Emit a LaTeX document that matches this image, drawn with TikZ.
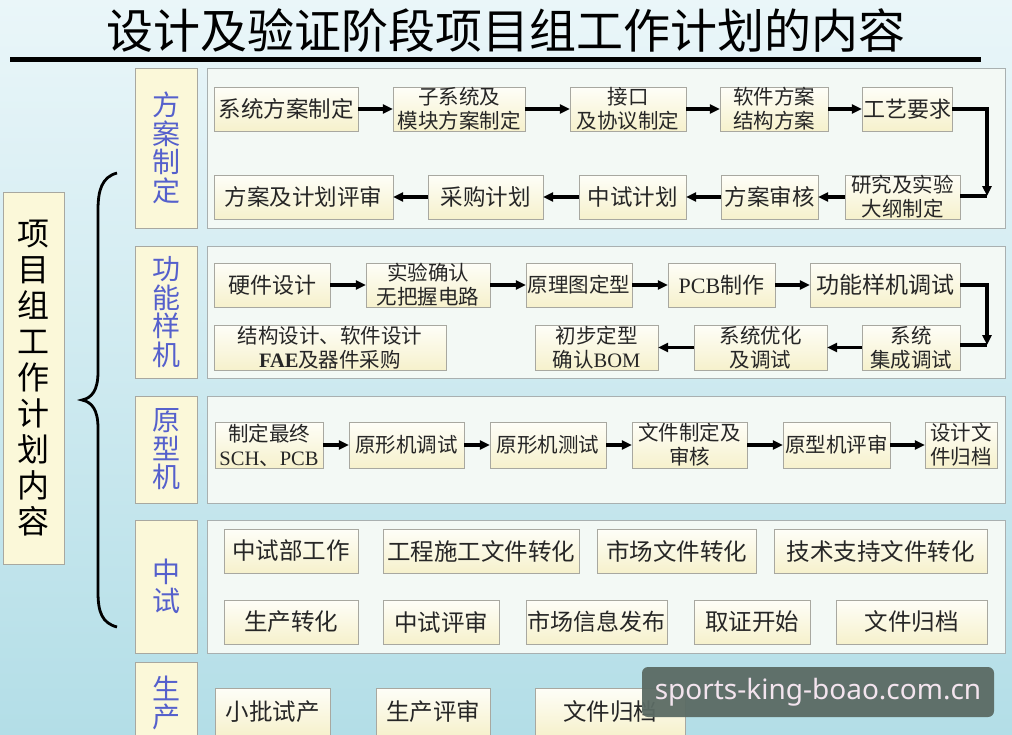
\documentclass[tikz,border=0pt]{standalone}
\usepackage{fontspec}
\newfontfamily\cjk{Noto Sans CJK SC}
\newfontfamily\lat{Liberation Serif}
\newfontfamily\wmfont{Noto Sans}
\usetikzlibrary{arrows.meta}
\definecolor{bgtop}{HTML}{EAF6F9}
\definecolor{bgmid}{HTML}{DCF0F4}
\definecolor{bgbot}{HTML}{B3DEE7}
\definecolor{panelfill}{HTML}{F3F9F5}
\definecolor{panelline}{HTML}{A9B0B0}
\definecolor{phasefill}{HTML}{FBF8D9}
\definecolor{boxline}{HTML}{A8A8A0}
\definecolor{boxtop}{HTML}{FEFEF8}
\definecolor{boxbot}{HTML}{F6F1CC}
\definecolor{phaseblue}{HTML}{5560CC}
\definecolor{wmfill}{HTML}{5B6B64}
\definecolor{wmtext}{HTML}{F3E4EE}
\tikzset{
  >={Triangle[length=10pt,width=9pt]},
  stepbox/.style={draw=boxline, top color=boxtop, bottom color=boxbot, inner sep=0pt,
    minimum height=44pt, align=center, text=black!85,
    font=\cjk\fontsize{#1}{#1}\selectfont},
  stepbox/.default=22,
  twoline/.style={stepbox, font=\cjk\fontsize{20.5}{24}\selectfont},
  phase/.style={draw=boxline, fill=phasefill, minimum width=62pt, inner sep=0pt,
    align=center, text=phaseblue, font=\cjk\fontsize{28}{28.5}\selectfont},
  panel/.style={draw=panelline, fill=panelfill, minimum width=798pt, inner sep=0pt},
  flow/.style={->, line width=3.3pt},
  turnline/.style={line width=3.3pt}
}

\begin{document}
\begin{tikzpicture}[x=1pt,y=-1pt]

\clip (0,0) rectangle (1012,734);
\shade[top color=bgtop, middle color=bgmid, bottom color=bgbot] (0,0) rectangle (1012,734);

% Title
\node[font=\cjk\fontsize{47}{47}\selectfont] (title) at (506,31) {设计及验证阶段项目组工作计划的内容};
\draw[line width=5pt] (10,59.5) -- (981,59.5);

% Left label and brace
\node[draw=boxline, fill=phasefill, minimum width=61pt, minimum height=372pt, align=center,
  font=\cjk\fontsize{32}{36}\selectfont] (plan) at (33.5,378) {项\\目\\组\\工\\作\\计\\划\\内\\容};
\draw[line width=2.8pt] (117,173) .. controls (102,177) and (98,190) .. (98,210) -- (98,372)
  .. controls (98,390) and (92,398) .. (82,400) .. controls (92,402) and (98,410) .. (98,428)
  -- (98,592) .. controls (98,612) and (102,623) .. (117,627);

% -------- 方案制定 --------
\node[panel, minimum height=160pt] (p1) at (606,148) {};
\node[phase, minimum height=160pt] (ph1) at (166,148) {方\\案\\制\\定};
\node[stepbox=22.5, minimum width=144pt] (fa1) at (286,109) {系统方案制定};
\node[twoline, minimum width=132pt] (fa2) at (459,109) {子系统及\\模块方案制定};
\node[twoline, minimum width=116pt] (fa3) at (628,109) {接口\\及协议制定};
\node[twoline, minimum width=108pt] (fa4) at (774,109) {软件方案\\结构方案};
\node[stepbox, minimum width=90pt] (fa5) at (907,109) {工艺要求};
\node[twoline, minimum width=115pt] (fa6) at (902.5,197) {研究及实验\\大纲制定};
\node[stepbox=22.5, minimum width=97pt] (fa7) at (769.5,197) {方案审核};
\node[stepbox=22.5, minimum width=107pt] (fa8) at (632.5,197) {中试计划};
\node[stepbox=22.5, minimum width=115pt] (fa9) at (485.5,197) {采购计划};
\node[stepbox=22.5, minimum width=179pt] (fa10) at (303.5,197) {方案及计划评审};
\coordinate (turn1) at (987,196);

\draw[flow] (fa1) -- (fa2);
\draw[flow] (fa2) -- (fa3);
\draw[flow] (fa3) -- (fa4);
\draw[flow] (fa4) -- (fa5);
\draw[flow] (fa5.east) -| (turn1);
\draw[turnline] (fa6.east |- turn1) -- (turn1);
\draw[flow] (fa6) -- (fa7);
\draw[flow] (fa7) -- (fa8);
\draw[flow] (fa8) -- (fa9);
\draw[flow] (fa9) -- (fa10);

% -------- 功能样机 --------
\node[panel, minimum height=132pt] (p2) at (606,312) {};
\node[phase, minimum height=132pt] (ph2) at (166,312) {功\\能\\样\\机};
\node[stepbox, minimum width=116pt] (gn1) at (272,285) {硬件设计};
\node[twoline, minimum width=124pt] (gn2) at (428,285) {实验确认\\无把握电路};
\node[stepbox=20.5, minimum width=106pt] (gn3) at (579,285) {原理图定型};
\node[stepbox, minimum width=107pt] (gn4) at (721.5,285) {{\lat PCB}制作};
\node[stepbox=23, minimum width=150pt] (gn5) at (885,285) {功能样机调试};
\node[twoline, minimum width=98pt, minimum height=45pt] (gn6) at (911,347.5) {系统\\集成调试};
\node[twoline, minimum width=133pt, minimum height=45pt] (gn7) at (760.5,347.5) {系统优化\\及调试};
\node[twoline, minimum width=123pt, minimum height=45pt] (gn8) at (596.5,347.5) {初步定型\\确认{\lat BOM}};
\node[twoline, minimum width=232pt, minimum height=45pt] (gn9) at (330,347.5) {结构设计、软件设计\\{\lat\bfseries FAE}及器件采购};
\coordinate (turn2) at (987,345);

\draw[flow] (gn1) -- (gn2);
\draw[flow] (gn2) -- (gn3);
\draw[flow] (gn3) -- (gn4);
\draw[flow] (gn4) -- (gn5);
\draw[flow] (gn5.east) -| (turn2);
\draw[turnline] (gn6.east |- turn2) -- (turn2);
\draw[flow] (gn6) -- (gn7);
\draw[flow] (gn7) -- (gn8);

% -------- 原型机 --------
\node[panel, minimum height=107pt] (p3) at (606,449.5) {};
\node[phase, minimum height=107pt] (ph3) at (166,449.5) {原\\型\\机};
\node[twoline, minimum width=108pt, minimum height=46pt] (yx1) at (269,445) {制定最终\\{\lat SCH}、{\lat PCB}};
\node[stepbox=20.5, minimum width=115pt, minimum height=46pt] (yx2) at (406.5,445) {原形机调试};
\node[stepbox=20.5, minimum width=116pt, minimum height=46pt] (yx3) at (548,445) {原形机测试};
\node[twoline, minimum width=115pt, minimum height=46pt] (yx4) at (689.5,445) {文件制定及\\审核};
\node[stepbox=20.5, minimum width=107pt, minimum height=46pt] (yx5) at (836.5,445) {原型机评审};
\node[twoline, minimum width=72pt, minimum height=46pt] (yx6) at (961,445) {设计文\\件归档};

\draw[flow] (yx1) -- (yx2);
\draw[flow] (yx2) -- (yx3);
\draw[flow] (yx3) -- (yx4);
\draw[flow] (yx4) -- (yx5);
\draw[flow] (yx5) -- (yx6);

% -------- 中试 --------
\node[panel, minimum height=133pt] (p4) at (606,586.5) {};
\node[phase, minimum height=133pt] (ph4) at (166,586.5) {中\\试};
\node[stepbox=23.5, minimum width=134pt] (zs1) at (291,551) {中试部工作};
\node[stepbox=23.5, minimum width=196pt] (zs2) at (481,551) {工程施工文件转化};
\node[stepbox=23.5, minimum width=159pt] (zs3) at (676.5,551) {市场文件转化};
\node[stepbox=23.5, minimum width=213pt] (zs4) at (880.5,551) {技术支持文件转化};
\node[stepbox=23.5, minimum width=134pt] (zs5) at (291,622) {生产转化};
\node[stepbox=23.5, minimum width=116pt] (zs6) at (441,622) {中试评审};
\node[stepbox=23, minimum width=141pt] (zs7) at (596.5,622) {市场信息发布};
\node[stepbox=23.5, minimum width=116pt] (zs8) at (752,622) {取证开始};
\node[stepbox=23.5, minimum width=151pt] (zs9) at (911.5,622) {文件归档};

% -------- 生产 --------
\node[phase, minimum height=82pt] (ph5) at (166,703) {生\\产};
\node[stepbox=23.5, minimum width=115pt, minimum height=48pt] (sc1) at (272.5,712) {小批试产};
\node[stepbox=23.5, minimum width=114pt, minimum height=48pt] (sc2) at (433,712) {生产评审};
\node[stepbox=23.5, minimum width=150pt, minimum height=48pt] (sc3) at (610,712) {文件归档};

% Watermark
\node[fill=wmfill, fill opacity=0.95, text opacity=1, rounded corners=6pt, text=wmtext,
  minimum width=352pt, minimum height=50pt, inner sep=0pt,
  font=\wmfont\fontsize{28}{28}\selectfont] (wm) at (818,692) {sports-king-boao.com.cn};

\end{tikzpicture}
\end{document}
